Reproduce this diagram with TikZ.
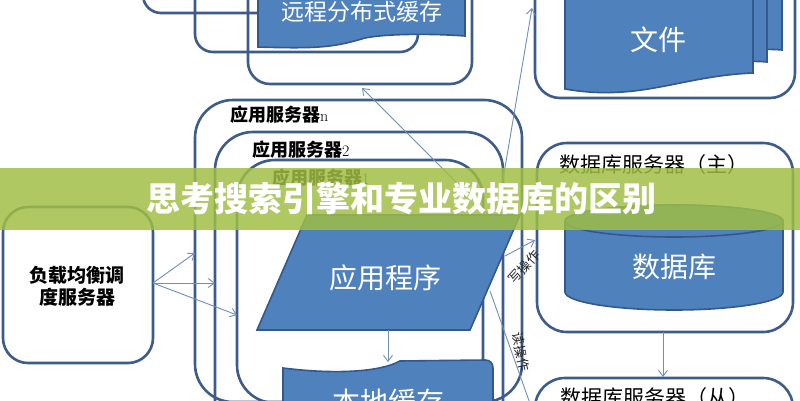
\documentclass[tikz,border=0pt]{standalone}
\usepackage{fontspec}
\newfontfamily\cjk{Noto Sans CJK SC}
\usetikzlibrary{arrows.meta}
\definecolor{boxline}{RGB}{62,92,138}
\definecolor{bluefill}{RGB}{79,129,189}
\definecolor{blueline}{RGB}{52,88,140}
\definecolor{thinline}{RGB}{112,142,184}
\definecolor{bannercol}{RGB}{160,190,68}
\tikzset{
  frame/.style={draw=boxline, line width=2.6pt, rounded corners=#1},
  bshape/.style={fill=bluefill, draw=blueline, line width=1.6pt},
  conn/.style={draw=thinline, line width=0.9pt, -{Straight Barb[length=6pt,width=9pt]}},
  plainconn/.style={draw=thinline, line width=0.9pt},
  wlabel/.style={text=white, inner sep=0pt, font=\cjk\fontsize{28}{30}\selectfont},
  klabel/.style={text=black, inner sep=0pt, anchor=west, font=\cjk\bfseries\fontsize{18}{20}\selectfont},
  dblabel/.style={text=black, inner sep=0pt, font=\cjk\fontsize{21}{24}\selectfont},
  oplabel/.style={text=black!85, inner sep=0pt, font=\cjk\fontsize{13}{14}\selectfont},
}
\begin{document}
\begin{tikzpicture}[x=1pt,y=-1pt]
\useasboundingbox (0,0) rectangle (800,400);
\fill[white] (0,0) rectangle (800,400);

% remote cache stack
\draw[frame=18pt] (143,-150) rectangle (400,13);
\draw[frame=18pt] (195,-150) rectangle (418,52);
\draw[frame=22pt] (248,-150) rectangle (472,84);
\path[bshape] (258,-10) -- (465,-10) -- (465,36) .. controls (440,34) and (390,33) .. (365,38) .. controls (335,47) and (320,49) .. (258,47) -- cycle;
\node[wlabel, font=\cjk\fontsize{23}{25}\selectfont] (remote) at (362,12) {远程分布式缓存};
\coordinate (remoteIn) at (362,88);

% file box
\draw[frame=25pt] (535,-100) rectangle (795,98);
\path[bshape] (595,-10) -- (782,-10) -- (782,50) .. controls (740,46) and (700,64) .. (595,62) -- cycle;
\path[bshape] (580,-10) -- (767,-10) -- (767,62) .. controls (725,58) and (690,76) .. (580,74) -- cycle;
\path[bshape] (565,-10) -- (753,-10) -- (753,73) .. controls (680,76) and (640,102) .. (565,89) -- cycle;
\node[wlabel] (file) at (658,40) {文件};
\coordinate (fileIn) at (532,8);

% master database server
\draw[frame=30pt] (537,143) rectangle (793,332);
\node[dblabel] (master) at (654,165) {数据库服务器（主）};
\path[bshape] (565,221) -- (565,292) arc[start angle=180,end angle=360,x radius=109pt,y radius=18pt] -- (783,221) arc[start angle=0,end angle=180,x radius=109pt,y radius=16pt] -- cycle;
\path[bshape] (674,221) ellipse[x radius=109pt,y radius=16pt];
\node[wlabel] (db) at (674,267) {数据库};
\coordinate (masterOut) at (663,332);
\coordinate (masterIn) at (535,240);

% slave database server
\draw[frame=30pt] (535,378) rectangle (793,560);
\node[dblabel] (slave) at (655,398) {数据库服务器（从）};
\coordinate (slaveIn) at (663,377);
\coordinate (slaveRead) at (533,412);
\draw[conn] (masterOut) -- (slaveIn);

% load balancer
\draw[frame=25pt] (3,207) rectangle (153,363);
\node[text=black, inner sep=0pt, align=center, font=\cjk\bfseries\fontsize{19}{22}\selectfont] (lb) at (77,286) {负载均衡调\\度服务器};
\coordinate (lbOut) at (153,283);

% application servers
\draw[frame=38pt] (195,100) rectangle (522,402);
\draw[frame=38pt] (215,132) rectangle (503,440);
\draw[frame=38pt] (237,160) rectangle (483,403);
\node[klabel] (asn) at (230,115) {应用服务器\rmfamily\mdseries\fontsize{16}{16}\selectfont n};
\node[klabel] (as2) at (252,150) {应用服务器\rmfamily\mdseries\fontsize{16}{16}\selectfont 2};
\node[klabel] (as1) at (272,178) {应用服务器\rmfamily\mdseries\fontsize{16}{16}\selectfont 1};
\coordinate (asnIn) at (195,253);
\coordinate (as2In) at (215,283);
\coordinate (as1In) at (237,315);
\draw[conn] (lbOut) -- (asnIn);
\draw[conn] (lbOut) -- (as2In);
\draw[conn] (lbOut) -- (as1In);

% connectors leaving the application program
\coordinate (appRemote) at (490,216);
\coordinate (appFile) at (489,262);
\coordinate (appWrite) at (505,256);
\coordinate (appRead) at (490,291);
\draw[conn] (appRemote) -- (remoteIn);
\draw[conn] (appFile) -- (fileIn);
\draw[conn] (appWrite) -- (masterIn);
\draw[plainconn] (appRead) -- (slaveRead);
\node[oplabel, rotate=48] (wop) at (524,267) {写操作};
\node[oplabel, rotate=-78] (rop) at (521,352) {读操作};

% application program
\path[bshape] (257,330) -- (470,330) -- (520,215) -- (307,215) -- cycle;
\node[wlabel] (app) at (385,278) {应用程序};
\coordinate (appOut) at (388,330);

% local cache
\path[bshape] (283,430) -- (283,368) .. controls (330,374) and (378,373) .. (400,361) -- (485,360) .. controls (490,360) and (493,363) .. (493,368) -- (493,430) -- cycle;
\node[wlabel] (local) at (388,402) {本地缓存};
\coordinate (localIn) at (388,362);
\draw[conn] (appOut) -- (localIn);

% banner
\fill[bannercol, opacity=0.84] (0,168) rectangle (800,230);
\node[text=white, inner sep=0pt, font=\cjk\bfseries\fontsize{34}{36}\selectfont] (title) at (401,199) {思考搜索引擎和专业数据库的区别};
\end{tikzpicture}
\end{document}
